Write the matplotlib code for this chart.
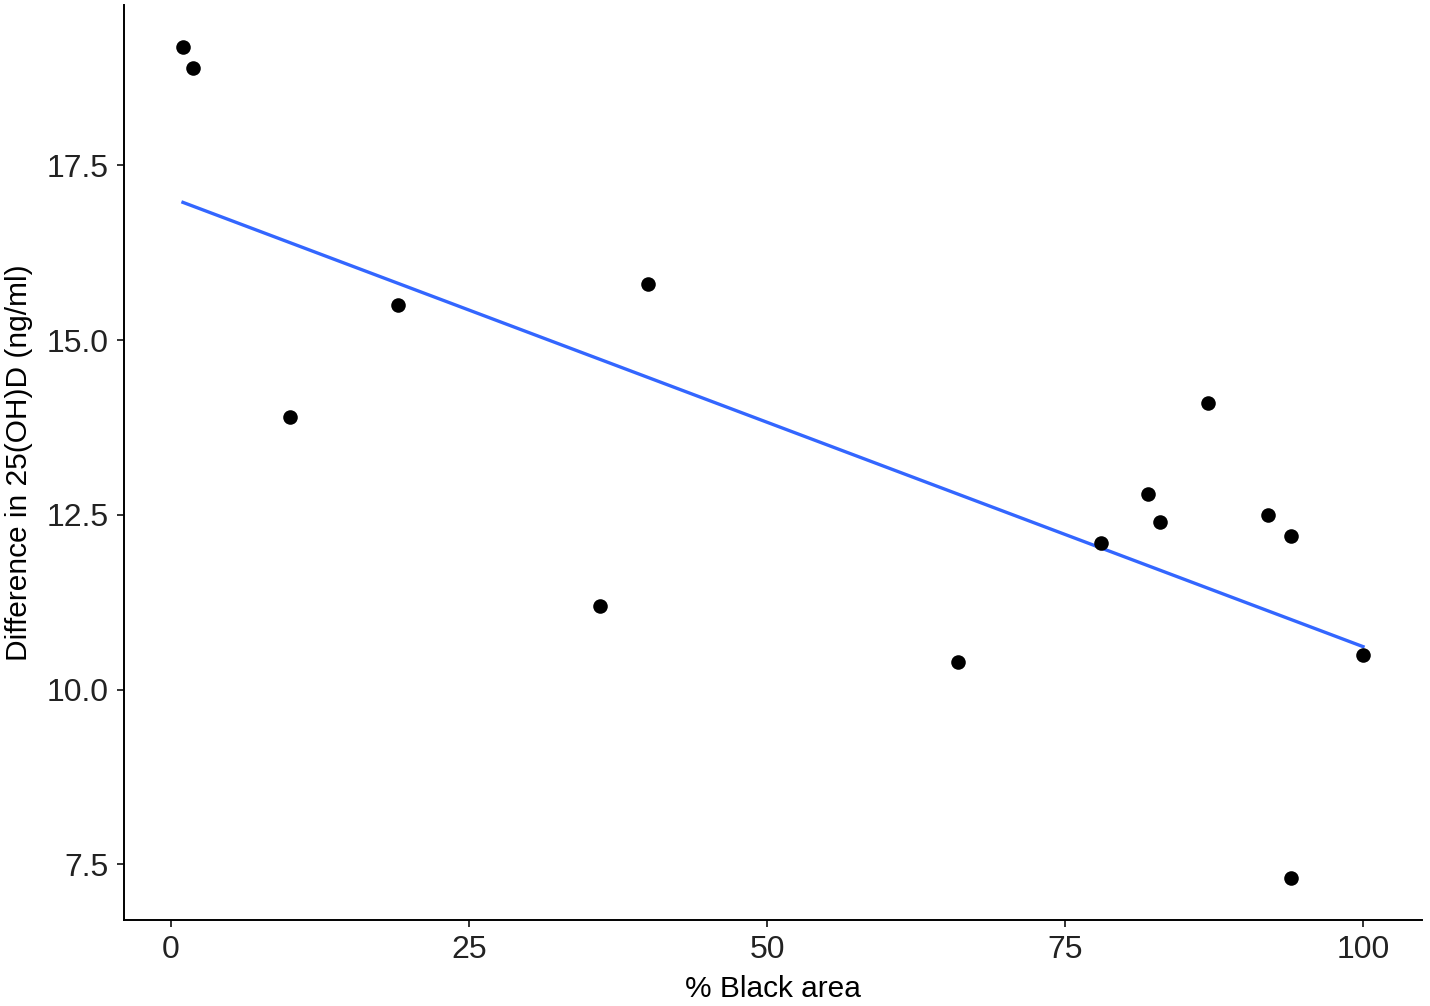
import numpy as np
import matplotlib
matplotlib.use("Agg")
import matplotlib.pyplot as plt

plt.rcParams['font.family'] = ['Liberation Sans', 'DejaVu Sans']

# data
black_area = [1, 1.8, 10, 19, 36, 40, 66, 78, 82, 83, 87, 92, 94, 94, 100]
diff_25ohd = [19.2, 18.9, 13.9, 15.5, 11.2, 15.8, 10.4, 12.1, 12.8, 12.4, 14.1, 12.5, 12.2, 7.3, 10.5]

x_ticks = [0, 25, 50, 75, 100]
y_ticks = [7.5, 10.0, 12.5, 15.0, 17.5]

x = np.array(black_area, dtype=float)
y = np.array(diff_25ohd, dtype=float)

# lm fit like geom_smooth(method="lm", se=FALSE)
slope, intercept = np.polyfit(x, y, 1)
xs = np.linspace(x.min(), x.max(), 80)

fig = plt.figure(figsize=(14.3, 10.06), dpi=100)
ax = fig.add_axes([0.0867, 0.0855, 0.9077, 0.9095])

ax.scatter(x, y, s=110, color="black", zorder=3, linewidths=0)
ax.plot(xs, slope * xs + intercept, color="#3366FF", linewidth=2.4, zorder=2)

# ggplot style 5% expansion
xr = x.max() - x.min()
yr = y.max() - y.min()
ax.set_xlim(x.min() - 0.05 * xr, x.max() + 0.05 * xr)
ax.set_ylim(y.min() - 0.05 * yr, y.max() + 0.05 * yr)

ax.set_xticks(x_ticks)
ax.set_yticks(y_ticks)
ax.set_xticklabels([str(t) for t in x_ticks])
ax.set_yticklabels([f"{t:.1f}" for t in y_ticks])

for side in ["top", "right"]:
    ax.spines[side].set_visible(False)
for side in ["left", "bottom"]:
    ax.spines[side].set_linewidth(1.4)
    ax.spines[side].set_color("black")

ax.tick_params(axis="both", length=5, width=1.4, color="#333333",
               labelsize=23, labelcolor="#222222", pad=6)

ax.set_xlabel("% Black area", fontsize=21.5, labelpad=7)
ax.set_ylabel("Difference in 25(OH)D (ng/ml)", fontsize=21.5, labelpad=10)

fig.savefig("out.png", dpi=100)
